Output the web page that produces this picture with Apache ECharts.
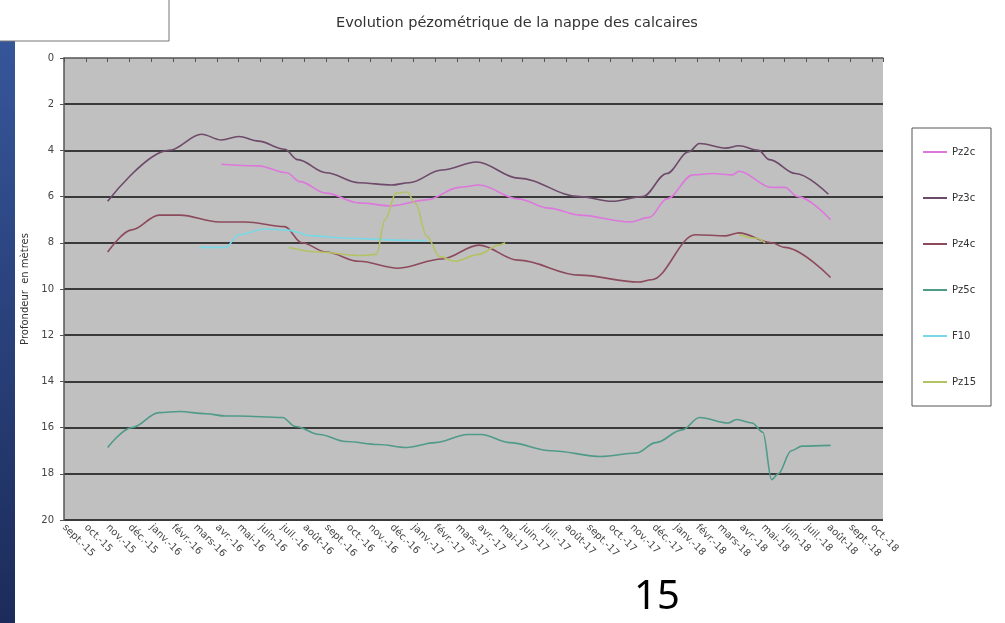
<!DOCTYPE html>
<html>
<head>
<meta charset="utf-8">
<script src="https://cdn.jsdelivr.net/npm/echarts@6/dist/echarts.min.js"></script>
<style>
  html, body { margin: 0; padding: 0; background: #fff; }
  #chart { width: 1005px; height: 623px; }
</style>
</head>
<body>
<div id="chart"></div>
<script>
// mois de l'axe X (index 0 = sept.-15)
var months = ['sept.-15', 'oct.-15', 'nov.-15', 'déc.-15', 'janv.-16', 'févr.-16', 'mars-16', 'avr.-16',
  'mai-16', 'juin-16', 'juil.-16', 'août-16', 'sept.-16', 'oct.-16', 'nov.-16', 'déc.-16', 'janv.-17',
  'févr.-17', 'mars-17', 'avr.-17', 'mai-17', 'juin-17', 'juil.-17', 'août-17', 'sept.-17', 'oct.-17',
  'nov.-17', 'déc.-17', 'janv.-18', 'févr.-18', 'mars-18', 'avr.-18', 'mai-18', 'juin-18', 'juil.-18',
  'août-18', 'sept.-18', 'oct.-18'];

var depthTicks = [0, 2, 4, 6, 8, 10, 12, 14, 16, 18, 20];

// [position en mois, profondeur en m]
var pz2c = [[7.2, 4.6], [8.9, 4.67], [10.2, 4.97], [10.8, 5.35], [12, 5.85], [13.5, 6.27], [15, 6.4],
  [16.6, 6.14], [18.1, 5.6], [19, 5.5], [20.8, 6.1], [22.2, 6.5], [23.6, 6.8], [25.9, 7.1],
  [26.8, 6.9], [27.6, 6.1], [28.8, 5.06], [29.7, 5.0], [30.6, 5.06], [30.9, 4.9], [32.4, 5.6], [33, 5.6],
  [33.6, 6.0], [35.1, 7.0]];

var pz3c = [[2, 6.2], [4.8, 4.0], [6.3, 3.3], [7.2, 3.55], [8, 3.4], [8.9, 3.6], [10.1, 3.95], [10.7, 4.4],
  [12, 4.97], [13.5, 5.4], [15, 5.5], [15.8, 5.4], [17.3, 4.85], [18.9, 4.5], [20.8, 5.2],
  [23.6, 6.0], [25.1, 6.2], [26.5, 6.0], [27.6, 5.0], [28.6, 4.06], [29.1, 3.7], [30.3, 3.9], [30.9, 3.8],
  [31.8, 4.0], [32.3, 4.4], [33.5, 5.0], [35, 5.9]];

var pz4c = [[2, 8.4], [3.1, 7.44], [4.35, 6.8], [5.3, 6.8], [7.1, 7.1], [8.3, 7.1], [10.1, 7.3], [10.9, 8.0],
  [12, 8.4], [13.5, 8.8], [15.3, 9.1], [17.3, 8.7], [19, 8.1], [20.8, 8.75], [23.6, 9.4],
  [26.3, 9.7], [26.9, 9.6], [28.9, 7.65], [30.3, 7.7], [30.9, 7.57], [32.4, 8.0], [33, 8.2], [35.1, 9.5]];

var pz5c = [[2, 16.86], [3.1, 16.0], [4.35, 15.35], [5.3, 15.3], [6.5, 15.4], [7.4, 15.5], [8, 15.5],
  [10, 15.56], [10.6, 15.95], [11.7, 16.3], [12.9, 16.6], [14.4, 16.73], [15.7, 16.86], [17, 16.65],
  [18.5, 16.3], [19.1, 16.3], [20.4, 16.65], [22.3, 17.0], [24.6, 17.25], [26.2, 17.1], [27.1, 16.65],
  [28.3, 16.1], [29.1, 15.56], [30.4, 15.8], [30.8, 15.65], [31.5, 15.8], [32.0, 16.2], [32.4, 18.25],
  [32.7, 18.0], [33.3, 17.0], [33.8, 16.8], [35.1, 16.77]];

var f10 = [[6.2, 8.2], [7.4, 8.2], [8, 7.65], [9.2, 7.4], [10.2, 7.45], [11.4, 7.7], [12.9, 7.8],
  [15.9, 7.9], [16.6, 7.9]];

var pz15 = [[10.3, 8.2], [11.7, 8.4], [13.5, 8.55], [14.3, 8.5], [14.7, 7.0], [15.2, 5.85], [15.7, 5.8],
  [16.1, 6.3], [16.6, 7.7], [17.2, 8.6], [17.9, 8.8], [19, 8.5], [19.9, 8.1], [20.2, 8.0], [21, null],
  [30.9, 7.65], [31.7, 7.8], [32.1, 8.0]];

var names = ['Pz2c', 'Pz3c', 'Pz4c', 'Pz5c', 'F10', 'Pz15'];
var colors = ['#dc78dc', '#6e4a6a', '#8c4a5c', '#4f9a88', '#78d8e6', '#b4c264'];
var seriesData = [pz2c, pz3c, pz4c, pz5c, f10, pz15];

var myChart = echarts.init(document.getElementById('chart'));

var series = seriesData.map(function (d, i) {
  return {
    name: names[i],
    type: 'line',
    data: d,
    symbol: 'none',
    smooth: 0.35,
    smoothMonotone: 'x',
    connectNulls: false,
    lineStyle: { color: colors[i], width: 1.6 },
    itemStyle: { color: colors[i] }
  };
});

var option = {
  backgroundColor: '#fff',
  animation: false,
  textStyle: { fontFamily: 'DejaVu Sans' },
  title: {
    text: 'Evolution pézométrique de la nappe des calcaires',
    left: 331,
    top: 11,
    textStyle: { fontSize: 14.5, fontWeight: 'normal', color: '#333', fontFamily: 'DejaVu Sans' }
  },
  legend: {
    data: names,
    orient: 'vertical',
    left: 912,
    top: 128,
    padding: [19, 15, 19, 11],
    icon: 'rect',
    itemGap: 36,
    itemWidth: 24,
    itemHeight: 2,
    borderColor: '#555',
    borderWidth: 1,
    backgroundColor: '#fff',
    textStyle: { fontSize: 10, color: '#333' }
  },
  grid: {
    left: 64,
    top: 58,
    right: 122,
    bottom: 103,
    show: true,
    backgroundColor: '#c0c0c0',
    borderWidth: 0
  },
  xAxis: {
    type: 'value',
    min: 0,
    max: 37.5,
    interval: 1,
    axisLine: { show: true, lineStyle: { color: '#555', width: 1.5 } },
    axisTick: { show: true, length: 4, lineStyle: { color: '#555' } },
    splitLine: { show: false },
    axisLabel: {
      rotate: -45,
      fontSize: 10,
      color: '#444',
      margin: 6,
      formatter: function (v) {
        return Number.isInteger(v) && months[v] ? months[v] : '';
      }
    }
  },
  yAxis: {
    type: 'value',
    inverse: true,
    min: depthTicks[0],
    max: depthTicks[depthTicks.length - 1],
    interval: 2,
    name: 'Profondeur  en mètres',
    nameLocation: 'middle',
    nameGap: 30,
    nameRotate: 90,
    nameTextStyle: { fontSize: 10, color: '#333' },
    axisLine: { show: true, lineStyle: { color: '#555', width: 1.5 } },
    axisTick: { show: true, length: 4, lineStyle: { color: '#555' } },
    axisLabel: { fontSize: 10, color: '#444', margin: 10 },
    splitLine: { show: true, showMinLine: false, lineStyle: { color: '#3a3a3a', width: 2 } }
  },
  graphic: [
    {
      type: 'rect',
      left: 0,
      top: 41,
      shape: { width: 15, height: 582 },
      style: {
        fill: new echarts.graphic.LinearGradient(0, 0, 0, 1, [
          { offset: 0, color: '#36569a' },
          { offset: 1, color: '#1c2b5a' }
        ])
      }
    },
    {
      type: 'rect',
      shape: { x: -1, y: -1, width: 170, height: 42 },
      style: { fill: '#fff', stroke: '#777', lineWidth: 1 }
    },
    {
      type: 'text',
      left: 634,
      top: 578,
      style: { text: '15', fontSize: 40, fill: '#000', fontFamily: 'Noto Sans' }
    }
  ],
  series: series
};

option && myChart.setOption(option);
</script>
</body>
</html>
